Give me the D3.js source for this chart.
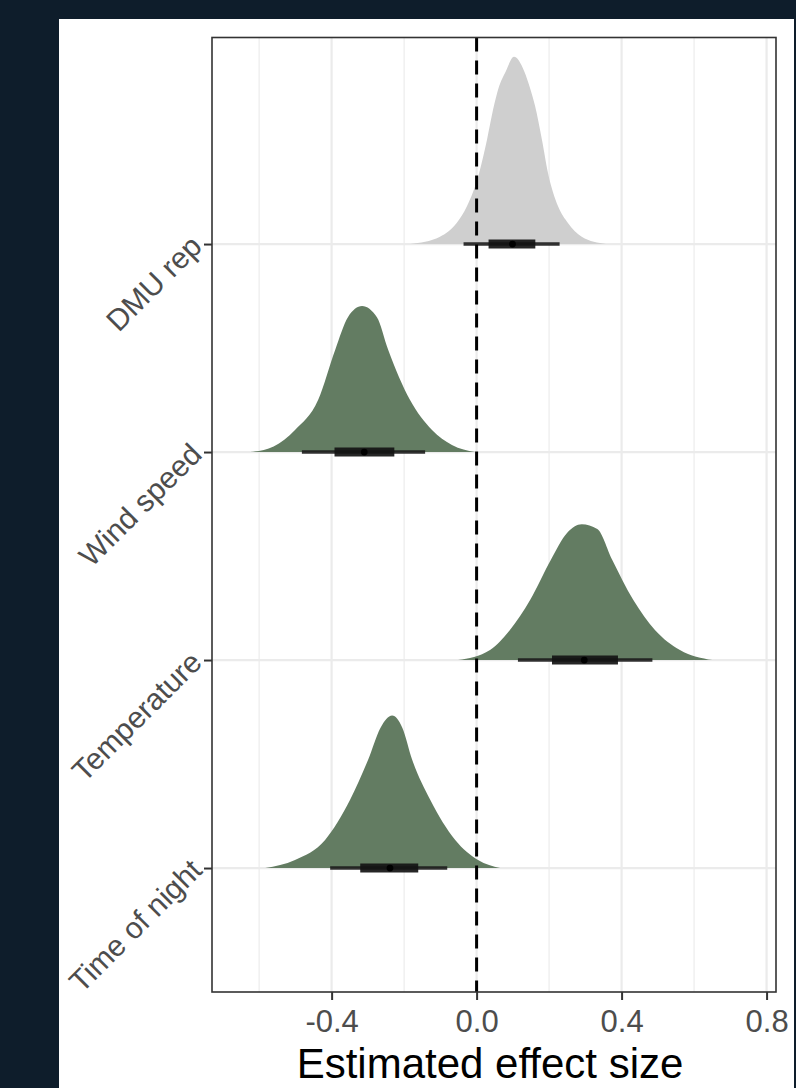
<!DOCTYPE html>
<html>
<head>
<meta charset="utf-8">
<script src="https://cdn.jsdelivr.net/npm/d3@7/dist/d3.min.js"></script>
<style>
  html, body { margin: 0; padding: 0; background: #0e1d2b; }
  svg { display: block; }
</style>
</head>
<body>
<svg id="chart" width="796" height="1088"></svg>
<script>
// Predictors, bottom to top
const categories = ["Time of night", "Temperature", "Wind speed", "DMU rep"];

// Posterior summaries: median, 66% and 95% intervals
const medians = [-0.239, 0.297, -0.310, 0.099];
const lo66 = [-0.321, 0.208, -0.392, 0.033];
const hi66 = [-0.161, 0.390, -0.227, 0.162];
const lo95 = [-0.404, 0.114, -0.482, -0.036];
const hi95 = [-0.081, 0.485, -0.142, 0.229];

// Posterior density curves (effect value, relative density)
const densX = [
  [-0.583, -0.501, -0.418, -0.349, -0.299, -0.265, -0.233, -0.205, -0.178, -0.128, -0.059, 0.004, 0.065],
  [-0.051, 0.037, 0.092, 0.148, 0.205, 0.250, 0.290, 0.333, 0.374, 0.432, 0.492, 0.561, 0.650],
  [-0.625, -0.560, -0.501, -0.437, -0.390, -0.355, -0.316, -0.275, -0.244, -0.184, -0.123, -0.068, -0.004],
  [-0.183, -0.101, -0.055, -0.027, 0.007, 0.029, 0.048, 0.060, 0.081, 0.103, 0.131, 0.148, 0.161, 0.180, 0.197, 0.225, 0.252, 0.290, 0.357]
];
const densY = [
  [0, 0.043, 0.15, 0.365, 0.58, 0.75, 0.815, 0.75, 0.58, 0.365, 0.15, 0.043, 0],
  [0, 0.054, 0.161, 0.322, 0.536, 0.68, 0.725, 0.70, 0.536, 0.322, 0.161, 0.054, 0],
  [0, 0.030, 0.118, 0.279, 0.547, 0.72, 0.78, 0.72, 0.547, 0.279, 0.118, 0.038, 0],
  [0, 0.039, 0.112, 0.20, 0.38, 0.56, 0.74, 0.83, 0.925, 1.0, 0.925, 0.83, 0.74, 0.56, 0.38, 0.20, 0.112, 0.039, 0]
];

const xTicks = [-0.4, 0.0, 0.4, 0.8];
const xMinor = [-0.6, -0.2, 0.2, 0.6];
const xTitle = "Estimated effect size";
const highlight = "DMU rep";

const svg = d3.select("#chart");
const W = 796, H = 1088;
const FONT = "'Liberation Sans', Arial, Helvetica, sans-serif";

// white card
svg.append("rect").attr("x", 59).attr("y", 19).attr("width", 735).attr("height", H - 19).attr("fill", "#ffffff");

const panel = { left: 212, right: 776, top: 37.5, bottom: 992 };

const x = d3.scaleLinear().domain([-0.73, 0.826]).range([panel.left, panel.right]);
const y = d3.scaleLinear().domain([0.404, 4.993]).range([panel.bottom, panel.top]);
const unit = y(0) - y(1);
const slabScale = 0.9;

const g = svg.append("g");

// grid
g.selectAll("line.minor").data(xMinor).join("line")
  .attr("x1", d => x(d)).attr("x2", d => x(d))
  .attr("y1", panel.top).attr("y2", panel.bottom)
  .attr("stroke", "#ececec").attr("stroke-width", 1.2);
g.selectAll("line.majorx").data(xTicks).join("line")
  .attr("x1", d => x(d)).attr("x2", d => x(d))
  .attr("y1", panel.top).attr("y2", panel.bottom)
  .attr("stroke", "#ebebeb").attr("stroke-width", 2.2);
g.selectAll("line.majory").data(categories).join("line")
  .attr("x1", panel.left).attr("x2", panel.right)
  .attr("y1", (d, i) => y(i + 1)).attr("y2", (d, i) => y(i + 1))
  .attr("stroke", "#ebebeb").attr("stroke-width", 2.2);

// density slabs
const area = d3.area()
  .curve(d3.curveMonotoneX);

categories.forEach((c, i) => {
  const pts = densX[i].map((v, k) => [v, densY[i][k]]);
  const base = y(i + 1);
  area.x(p => x(p[0])).y0(base).y1(p => base - p[1] * slabScale * unit);
  g.append("path")
    .attr("d", area(pts))
    .attr("fill", c === highlight ? "#cfcfcf" : "#637c62");
});

// intervals
categories.forEach((c, i) => {
  const cy = y(i + 1);
  g.append("line")
    .attr("x1", x(lo95[i])).attr("x2", x(hi95[i]))
    .attr("y1", cy).attr("y2", cy)
    .attr("stroke", "#1c1c1c").attr("stroke-opacity", 0.9).attr("stroke-width", 3.4);
  g.append("line")
    .attr("x1", x(lo66[i])).attr("x2", x(hi66[i]))
    .attr("y1", cy).attr("y2", cy)
    .attr("stroke", "#141414").attr("stroke-opacity", 0.92).attr("stroke-width", 9);
  g.append("circle")
    .attr("cx", x(medians[i])).attr("cy", cy).attr("r", 3.4)
    .attr("fill", "#000");
});

// zero reference line
g.append("line")
  .attr("x1", x(0)).attr("x2", x(0))
  .attr("y1", panel.top).attr("y2", panel.bottom)
  .attr("stroke", "#000").attr("stroke-width", 3)
  .attr("stroke-dasharray", "14,9");

// panel border
g.append("rect")
  .attr("x", panel.left).attr("y", panel.top)
  .attr("width", panel.right - panel.left).attr("height", panel.bottom - panel.top)
  .attr("fill", "none").attr("stroke", "#333333").attr("stroke-width", 1.6);

// x axis
const xAxis = d3.axisBottom(x).tickValues(xTicks).tickFormat(d3.format(".1f")).tickSize(8).tickPadding(10);
const gx = svg.append("g").attr("transform", `translate(0,${panel.bottom})`).call(xAxis);
gx.select(".domain").remove();
gx.selectAll(".tick line").attr("stroke", "#333333").attr("stroke-width", 2);
gx.selectAll(".tick text")
  .attr("fill", "#4d4d4d")
  .style("font-family", FONT)
  .style("font-size", "31px")
  .text(d => d3.format(".1f")(d).replace("−", "-"));

// y axis
const yAxis = d3.axisLeft(y).tickValues(categories.map((c, i) => i + 1))
  .tickFormat(v => categories[v - 1]).tickSize(8).tickPadding(6);
const gy = svg.append("g").attr("transform", `translate(${panel.left},0)`).call(yAxis);
gy.select(".domain").remove();
gy.selectAll(".tick line").attr("stroke", "#333333").attr("stroke-width", 2);
gy.selectAll(".tick text")
  .attr("fill", "#4d4d4d")
  .attr("x", null).attr("dy", null)
  .attr("text-anchor", "end")
  .attr("dominant-baseline", "middle")
  .attr("transform", "translate(-14,-2) rotate(-45)")
  .style("font-family", FONT)
  .style("font-size", "30px");

// x title
svg.append("text")
  .attr("x", (panel.left + panel.right) / 2 - 4).attr("y", 1078)
  .attr("text-anchor", "middle")
  .attr("fill", "#000")
  .style("font-family", FONT)
  .style("font-size", "42px")
  .text(xTitle);
</script>
</body>
</html>
